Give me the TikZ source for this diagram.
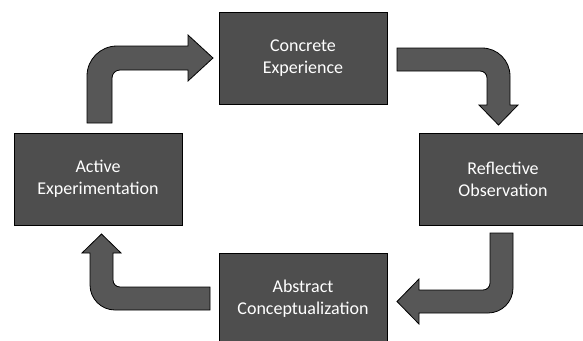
\documentclass[tikz,border=0pt]{standalone}
\usepackage{fontspec}
\setmainfont{Carlito}
\begin{document}
\begin{tikzpicture}[x=1pt,y=-1pt,
  stage/.style={draw=black, line width=0.8pt, fill=boxgray,
    minimum width=168pt, minimum height=92pt, inner sep=0pt,
    text=white, align=center, font=\fontsize{18}{22}\selectfont},
  blockarrow/.style={draw=black, line width=0.8pt, fill=arrowgray, line join=miter}]
\definecolor{boxgray}{HTML}{4E4E4E}
\definecolor{arrowgray}{HTML}{575757}
\useasboundingbox (0,0) rectangle (583,340);
\clip (0,0) rectangle (583,340);

% the four stages of the cycle
\node[stage] (ce) at (303,58)  {Concrete\\Experience};
\node[stage] (ro) at (503,179) {Reflective\\Observation};
\node[stage] (ac) at (303,299) {Abstract\\Conceptualization};
\node[stage] (ae) at (98,179)  {Active\\Experimentation};

% bent block arrow: Concrete Experience -> Reflective Observation
\filldraw[blockarrow] (397,48) -- (482,48)
  .. controls (497.5,48) and (510,60.5) .. (510,76)
  -- (510,105) -- (518,105) -- (498.5,125) -- (479,105) -- (487,105)
  -- (487,78) .. controls (487,74.1) and (483.9,71) .. (480,71)
  -- (397,71) -- cycle;

% bent block arrow: Reflective Observation -> Abstract Conceptualization
\filldraw[blockarrow] (490,233) -- (513,233) -- (513,288)
  .. controls (513,301.8) and (501.8,313) .. (488,313)
  -- (419,313) -- (419,324) -- (397,301.5) -- (419,279) -- (419,290)
  -- (483,290) .. controls (486.9,290) and (490,286.9) .. (490,283)
  -- cycle;

% bent block arrow: Abstract Conceptualization -> Active Experimentation
\filldraw[blockarrow] (210,287) -- (210,310) -- (115,310)
  .. controls (101.2,310) and (90,298.8) .. (90,285)
  -- (90,253) -- (82,253) -- (101.5,234) -- (121,253) -- (113,253)
  -- (113,280) .. controls (113,283.9) and (116.1,287) .. (120,287)
  -- cycle;

% bent block arrow: Active Experimentation -> Concrete Experience
\filldraw[blockarrow] (87,123) -- (87,76)
  .. controls (87,59.4) and (100.4,46) .. (117,46)
  -- (188,46) -- (188,35) -- (213,58) -- (188,81) -- (188,70)
  -- (120,70) .. controls (115.6,70) and (112,73.6) .. (112,78)
  -- (112,123) -- cycle;
\end{tikzpicture}
\end{document}
